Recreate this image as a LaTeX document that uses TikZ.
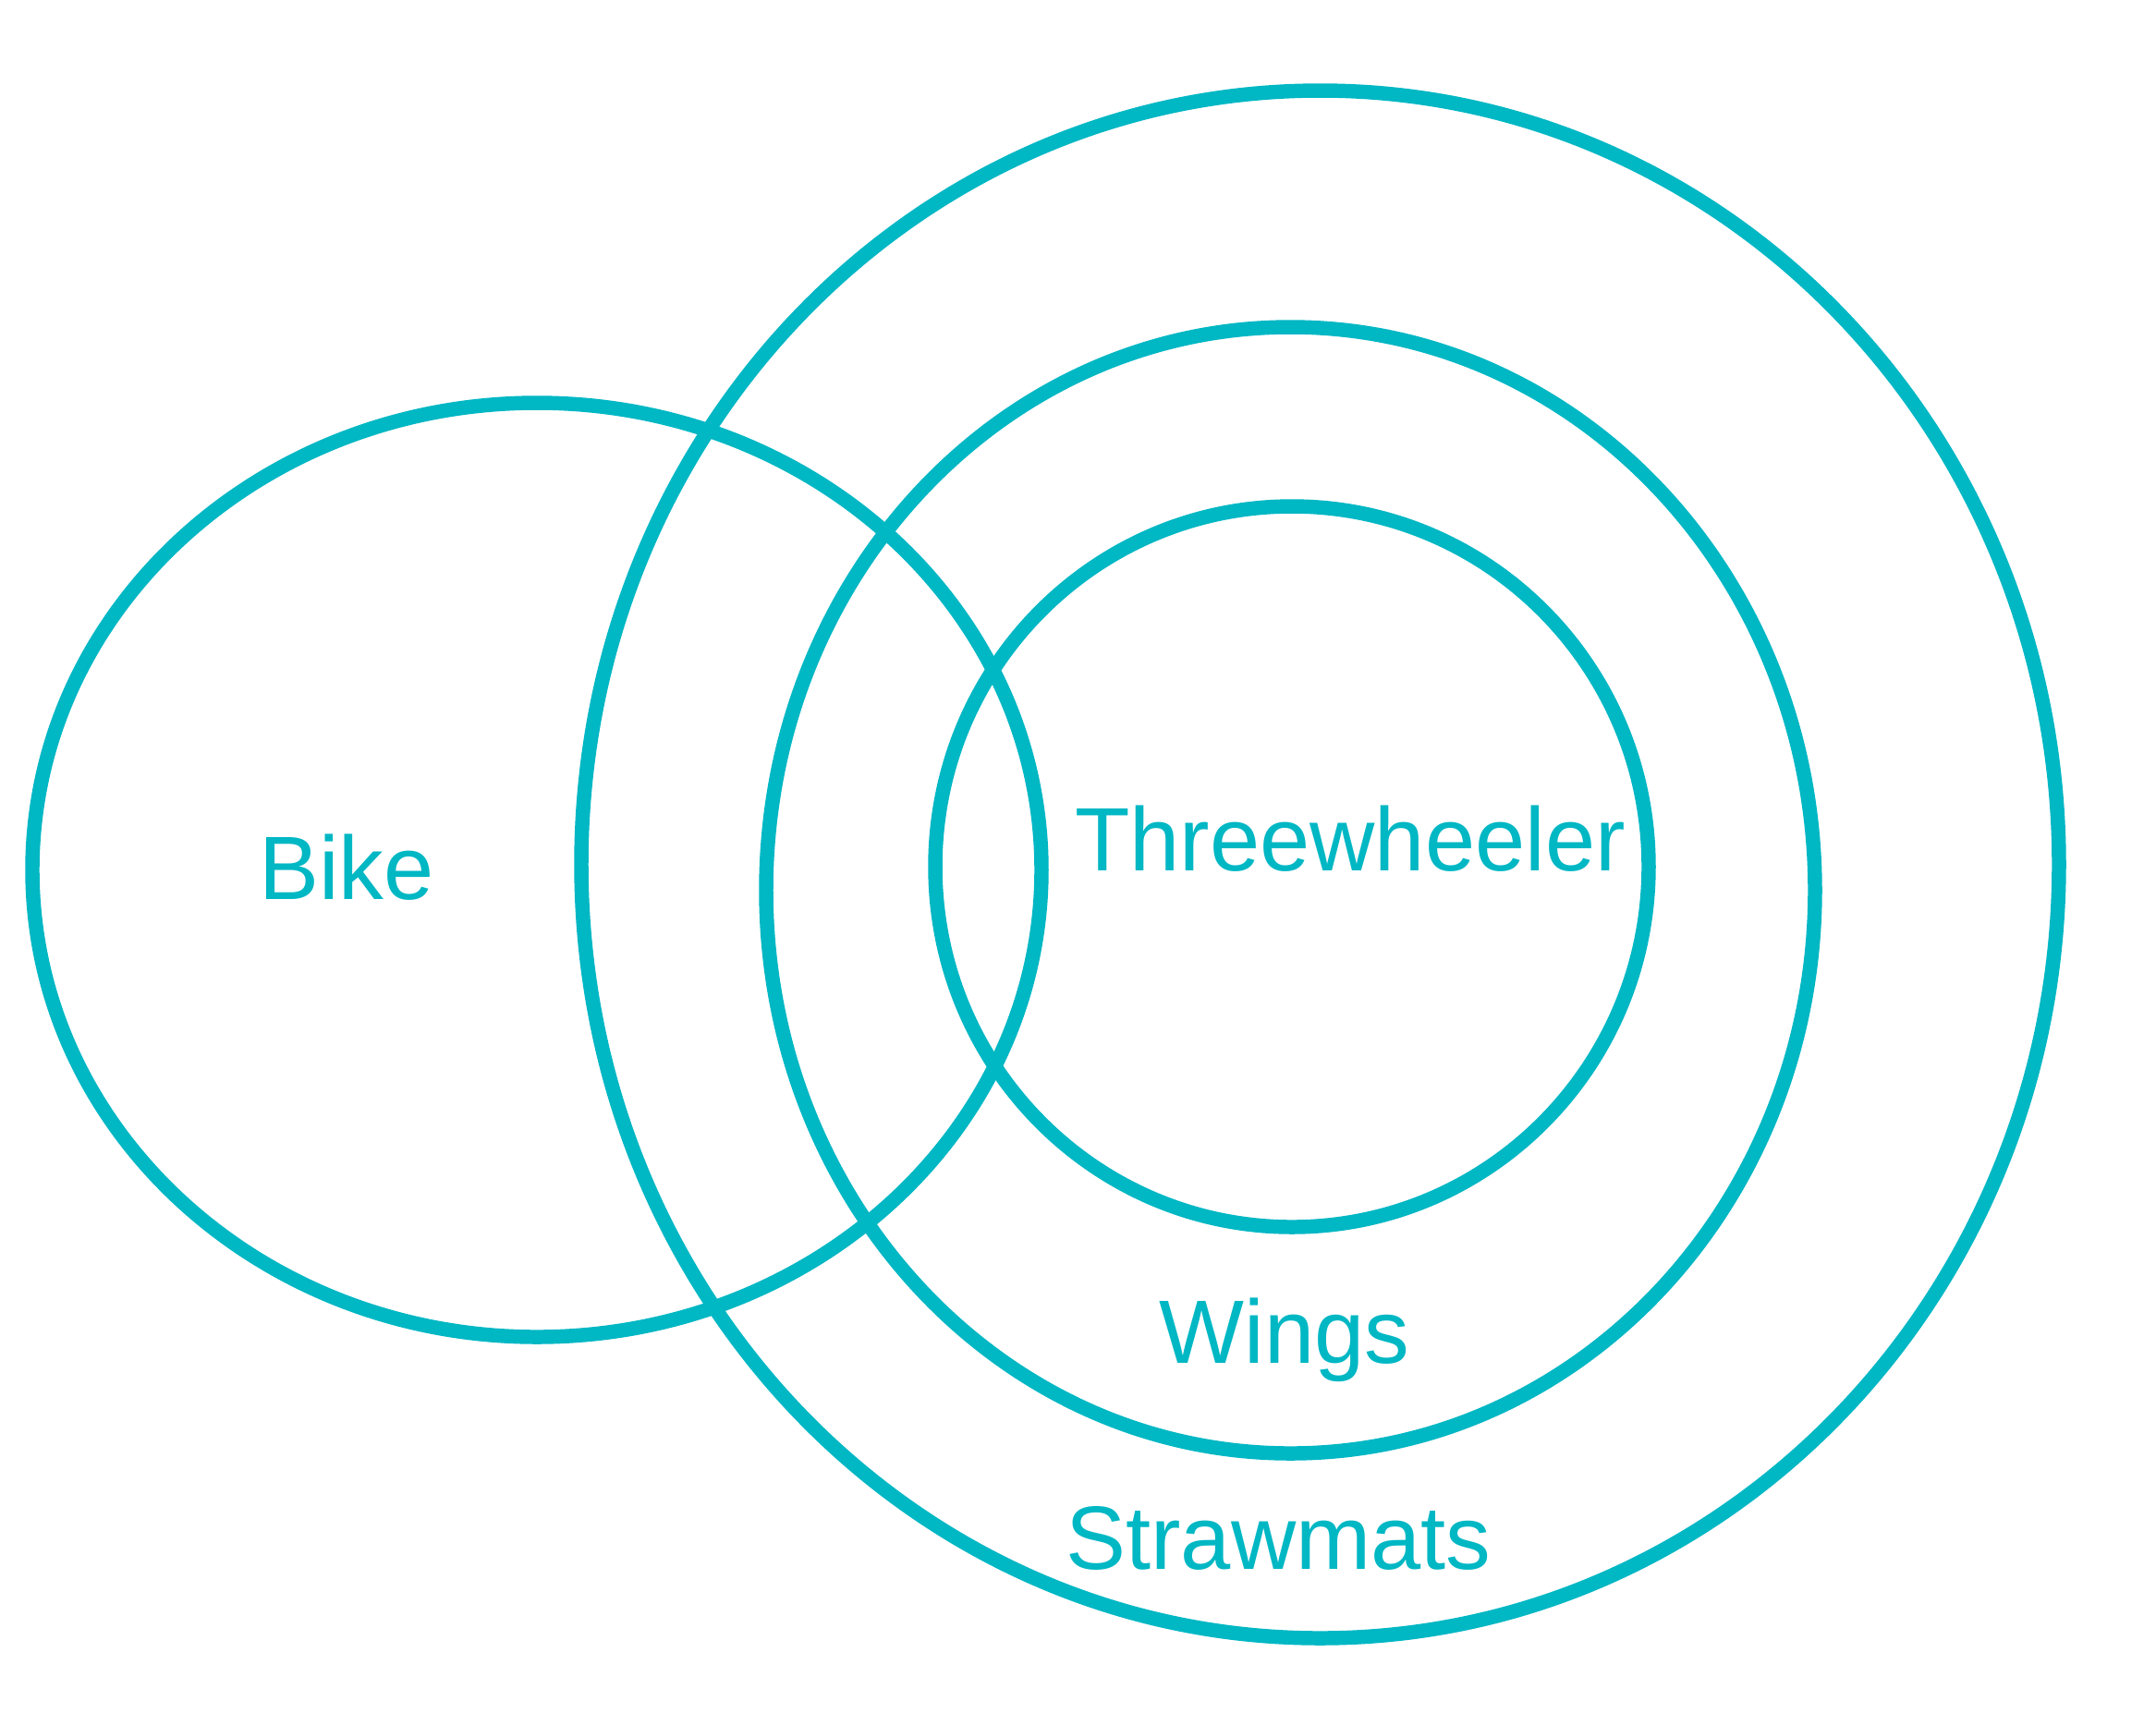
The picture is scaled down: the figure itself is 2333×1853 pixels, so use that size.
\documentclass[tikz,border=0pt]{standalone}
\usepackage{fontspec}
\setmainfont{Liberation Sans}
\usepackage{tikz}
\definecolor{setteal}{RGB}{0,183,196}
\tikzset{
    setline/.style={
        line width=4.4pt,
        setteal
    },
    % labels of the sets
    setlabel/.style={
        setteal,
        anchor=base,
        inner sep=0pt,
        font=\fontsize{27.7pt}{33pt}\selectfont
    }
}

\begin{document}
\begin{tikzpicture}[x=0.01cm,y=-0.01cm]
    \useasboundingbox (0,0) rectangle (2333,1853);
    \draw[setline] (581,941.5) ellipse [x radius=546, y radius=505.5];
    \draw[setline] (1428.5,935.5) ellipse [x radius=799.5, y radius=837.5];
    \draw[setline] (1396.5,963.5) ellipse [x radius=567.5, y radius=609.5];
    \draw[setline] (1398,938) ellipse [x radius=386, y radius=390];

    \node[setlabel] (bike) at (375,973) {Bike};
    \node[setlabel] (three) at (1461,942) {Threewheeler};
    \node[setlabel] (wings) at (1390,1475) {Wings};
    \node[setlabel] (straw) at (1383.5,1698) {Strawmats};
\end{tikzpicture}
\end{document}
